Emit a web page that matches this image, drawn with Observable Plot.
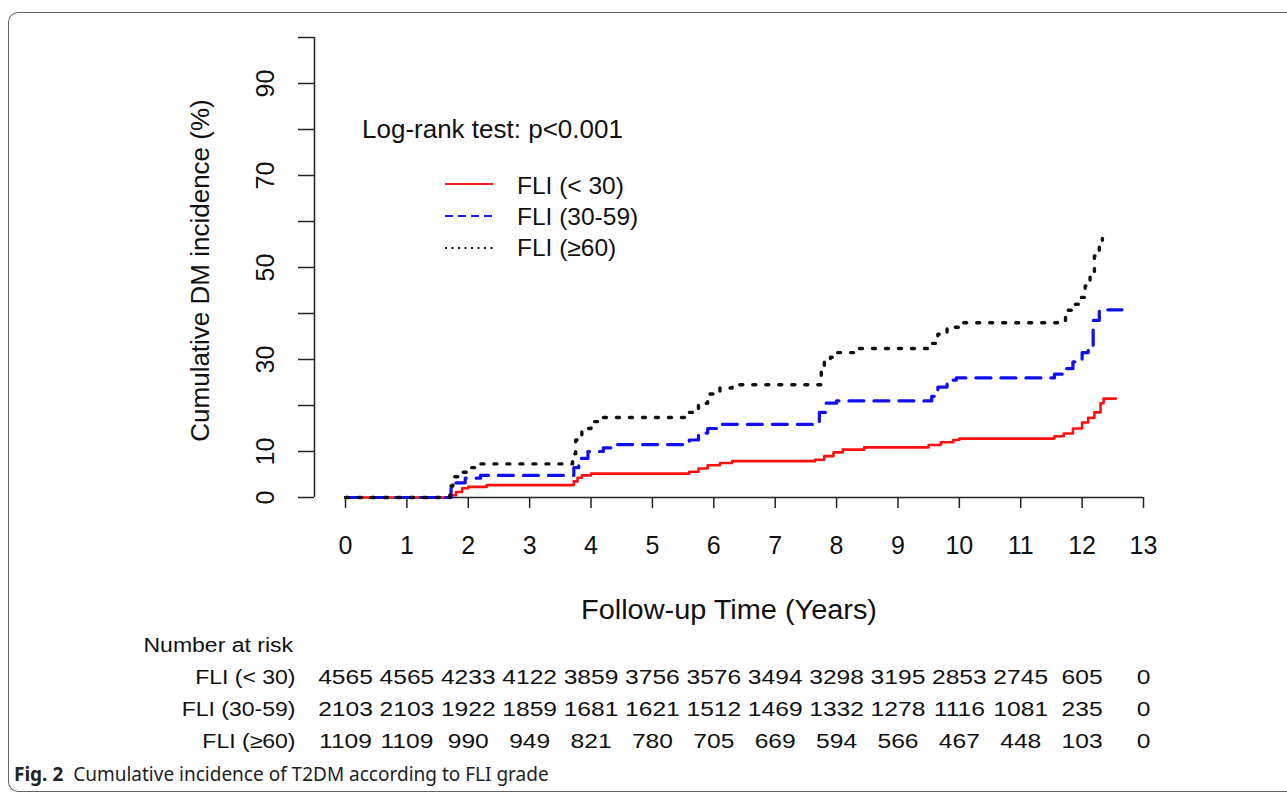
<!DOCTYPE html>
<html>
<head>
<meta charset="utf-8">
<script src="https://cdn.jsdelivr.net/npm/d3@7"></script>
<script src="https://cdn.jsdelivr.net/npm/@observablehq/plot@0.6"></script>
<style>
  html, body { margin: 0; padding: 0; background: #fff; }
  #root { position: relative; width: 1287px; height: 793px; overflow: hidden; font-family: "Liberation Sans", Arial, sans-serif; }
  #frame { position: absolute; left: 8px; top: 12px; width: 1320px; height: 778px; border: 1.3px solid #666; border-right: none; border-radius: 10px 0 0 10px; }
  #main { position: absolute; left: 0; top: 0; }
  #risk { position: absolute; left: 0; top: 625px; }
  .leg { position: absolute; color: #111; white-space: nowrap; line-height: 1; }
  #caption { position: absolute; left: 14px; top: 765px; font-family: "Noto Sans", sans-serif; font-size: 19px; line-height: 1; color: #222; white-space: nowrap; }
  #caption b { font-weight: 700; }
</style>
</head>
<body>
<div id="root">
  <div id="frame"></div>
  <div id="main"></div>
  <div id="risk"></div>
  <div class="leg" style="left:362px; top:116px; font-size:26px;">Log-rank test: p&lt;0.001</div>
  <svg class="leg" style="left:440px; top:170px;" width="60" height="90">
    <line x1="5" x2="53" y1="14" y2="14" stroke="#ff1a1a" stroke-width="2"></line>
    <line x1="5" x2="53" y1="46" y2="46" stroke="#1a1aff" stroke-width="2" stroke-dasharray="8,5"></line>
    <line x1="5" x2="53" y1="78" y2="78" stroke="#111" stroke-width="2" stroke-dasharray="2,4.5"></line>
  </svg>
  <div class="leg" style="left:517px; top:174px; font-size:24.5px;">FLI (&lt; 30)</div>
  <div class="leg" style="left:517px; top:205px; font-size:24.5px;">FLI (30-59)</div>
  <div class="leg" style="left:517px; top:236px; font-size:24.5px;">FLI (≥60)</div>
  <div id="caption"><b>Fig. 2</b>&nbsp; Cumulative incidence of T2DM according to FLI grade</div>
</div>
<script>
// ---- Data ----
const groups = ["FLI (< 30)", "FLI (30-59)", "FLI (≥60)"];

const redTime  = [0, 1.72, 1.8, 1.9, 2.0, 2.3, 3.72, 3.78, 3.85, 4.0, 5.6, 5.75, 5.9, 6.1, 6.3, 7.65, 7.8, 7.95, 8.1, 8.45, 9.5, 9.7, 9.9, 10.0, 11.55, 11.7, 11.85, 12.0, 12.1, 12.2, 12.3, 12.35, 12.55];
const redValue = [0, 0.5, 1.2, 2.0, 2.3, 2.7, 3.5, 4.3, 4.8, 5.2, 5.6, 6.3, 7.0, 7.5, 7.9, 8.2, 9.0, 9.8, 10.4, 10.9, 11.4, 12.0, 12.5, 12.8, 13.3, 13.9, 15.0, 16.3, 17.3, 18.5, 20.5, 21.5, 21.5];

const blueTime  = [0, 1.72, 1.8, 1.95, 2.2, 3.72, 3.8, 3.95, 4.2, 4.4, 5.6, 5.75, 5.9, 6.1, 7.72, 7.82, 8.0, 9.55, 9.65, 9.8, 9.95, 11.55, 11.7, 11.85, 12.0, 12.1, 12.18, 12.28, 12.65];
const blueValue = [0, 2.0, 3.2, 4.2, 4.8, 6.5, 8.5, 10.0, 10.8, 11.5, 12.5, 14.0, 15.0, 15.9, 18.5, 20.5, 21.0, 22.0, 24.0, 25.5, 26.0, 26.8, 28.0, 29.5, 31.5, 33.0, 38.5, 40.8, 40.8];

const blackTime  = [0, 1.7, 1.75, 1.85, 2.0, 2.2, 3.7, 3.75, 3.85, 4.0, 4.2, 5.6, 5.75, 5.9, 6.1, 6.3, 7.75, 7.8, 7.9, 8.0, 8.3, 9.5, 9.65, 9.8, 10.0, 11.6, 11.73, 11.85, 11.95, 12.05, 12.13, 12.2, 12.28, 12.33];
const blackValue = [0, 2.5, 4.5, 5.5, 6.5, 7.3, 9.5, 12.5, 15.0, 16.5, 17.4, 18.5, 20.5, 22.5, 23.8, 24.5, 27.5, 29.5, 30.5, 31.5, 32.4, 33.5, 35.5, 37.0, 38.0, 38.5, 40.7, 42.0, 43.5, 46.0, 49.0, 52.5, 55.0, 56.3];

const riskTimes = [0, 1, 2, 3, 4, 5, 6, 7, 8, 9, 10, 11, 12, 13];
const riskLow  = [4565, 4565, 4233, 4122, 3859, 3756, 3576, 3494, 3298, 3195, 2853, 2745, 605, 0];
const riskMid  = [2103, 2103, 1922, 1859, 1681, 1621, 1512, 1469, 1332, 1278, 1116, 1081, 235, 0];
const riskHigh = [1109, 1109, 990, 949, 821, 780, 705, 669, 594, 566, 467, 448, 103, 0];

const xTicks = [0, 1, 2, 3, 4, 5, 6, 7, 8, 9, 10, 11, 12, 13];
const yTicks = [0, 10, 20, 30, 40, 50, 60, 70, 80, 90, 100];
const yLabels = [0, 10, 30, 50, 70, 90];

// ---- Build ----
const xDomain = [-0.505, 13];
const toRows = (ts, vs) => ts.map((t, i) => ({t, v: vs[i]}));
const red = toRows(redTime, redValue), blue = toRows(blueTime, blueValue), black = toRows(blackTime, blackValue);
const font = "Liberation Sans, Arial, sans-serif";

function stretch(svg, factor, filter) {
  d3.select(svg).selectAll("text").each(function() {
    if (filter && !filter(this.textContent)) return;
    const L = this.getComputedTextLength();
    if (L > 0) {
      this.setAttribute("textLength", (L * factor).toFixed(2));
      this.setAttribute("lengthAdjust", "spacingAndGlyphs");
    }
  });
}

const main = Plot.plot({
  width: 1287, height: 640,
  marginLeft: 314, marginRight: 144, marginTop: 37, marginBottom: 143,
  style: {fontFamily: font, background: "transparent", color: "#111"},
  x: {domain: xDomain},
  y: {domain: [0, 100]},
  marks: [
    Plot.ruleY([0], {x1: 0, x2: 13, stroke: "#222", strokeWidth: 1.5}),
    Plot.ruleX([xDomain[0]], {y1: 0, y2: 100, stroke: "#222", strokeWidth: 1.5}),
    Plot.axisX({ticks: xTicks, tickSize: 11, tickPadding: 28, fontSize: 25, stroke: "#222", strokeWidth: 1.5, label: null, tickFormat: d => String(d)}),
    Plot.axisY({ticks: yTicks, tickSize: 16, tickFormat: () => "", stroke: "#222", strokeWidth: 1.5, label: null}),
    Plot.text(yLabels, {y: d => d, text: d => String(d), frameAnchor: "left", dx: -49, rotate: -90, textAnchor: "middle", lineAnchor: "middle", fontSize: 25}),
    Plot.text(["Follow-up Time (Years)"], {frameAnchor: "bottom", dy: 113, textAnchor: "middle", lineAnchor: "middle", fontSize: 27}),
    Plot.text(["Cumulative DM incidence (%)"], {frameAnchor: "left", dx: -114, dy: 3, rotate: -90, textAnchor: "middle", lineAnchor: "middle", fontSize: 26}),
    Plot.line(red, {x: "t", y: "v", curve: "step-after", stroke: "#ff1010", strokeWidth: 2.6}),
    Plot.line(blue, {x: "t", y: "v", curve: "step-after", stroke: "#1010ee", strokeWidth: 3.2, strokeDasharray: "15,10"}),
    Plot.line(black, {x: "t", y: "v", curve: "step-after", stroke: "#111", strokeWidth: 3.4, strokeDasharray: "3,10"})
  ]
});
document.getElementById("main").appendChild(main);
stretch(main, 1.07, t => t === "Follow-up Time (Years)");

const riskRows = [riskLow, riskMid, riskHigh].flatMap((arr, g) => arr.map((n, i) => ({group: groups[g], t: riskTimes[i], n})));

const risk = Plot.plot({
  width: 1287, height: 140,
  marginLeft: 314, marginRight: 144, marginTop: 0, marginBottom: 0,
  style: {fontFamily: font, background: "transparent", color: "#111"},
  x: {domain: xDomain, axis: null},
  y: {type: "point", domain: groups, range: [52, 116], padding: 0, axis: null},
  marks: [
    Plot.axisY({tickSize: 0, tickPadding: 19, fontSize: 20, label: null}),
    Plot.text(riskRows, {x: "t", y: "group", text: d => String(d.n), fontSize: 20.5}),
    Plot.text(["Number at risk"], {frameAnchor: "top-left", dx: -171, dy: 20, textAnchor: "start", lineAnchor: "middle", fontSize: 20})
  ]
});
document.getElementById("risk").appendChild(risk);
stretch(risk, 1.2, t => /^\d+$/.test(t));
stretch(risk, 1.15, t => !/^\d+$/.test(t));
</script>
</body>
</html>
